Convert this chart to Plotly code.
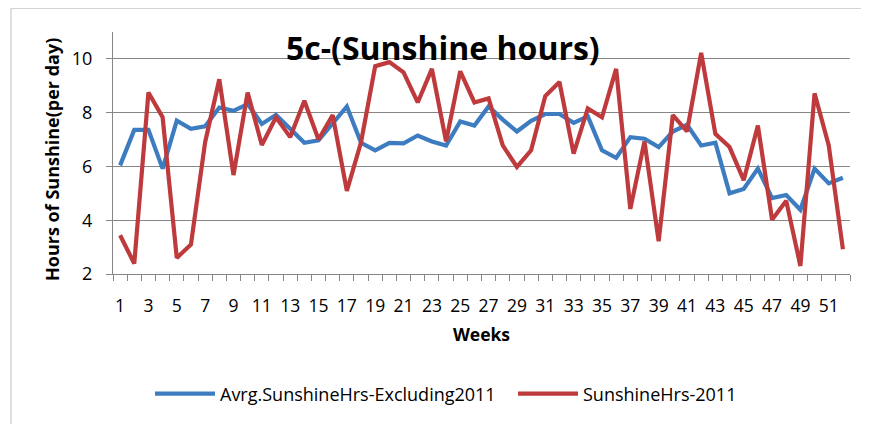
import plotly.graph_objects as go

weeks = list(range(1, 53))
avg_excl_2011 = [6.04, 7.36, 7.36, 5.92, 7.70, 7.40, 7.49, 8.19, 8.07, 8.32, 7.58, 7.92,
                 7.40, 6.88, 6.97, 7.58, 8.23, 6.88, 6.60, 6.88, 6.86, 7.15, 6.93, 6.78,
                 7.67, 7.52, 8.23, 7.74, 7.30, 7.70, 7.95, 7.95, 7.62, 7.86, 6.60, 6.32,
                 7.09, 7.03, 6.72, 7.30, 7.55, 6.78, 6.88, 5.00, 5.16, 5.92, 4.82, 4.94,
                 4.39, 5.92, 5.37, 5.58]
hrs_2011 = [3.44, 2.39, 8.75, 7.83, 2.60, 3.10, 6.90, 9.24, 5.68, 8.75, 6.80, 7.83,
            7.09, 8.44, 7.00, 7.91, 5.09, 6.90, 9.73, 9.88, 9.50, 8.38, 9.63, 6.93,
            9.54, 8.38, 8.53, 6.78, 5.98, 6.60, 8.62, 9.14, 6.48, 8.16, 7.83, 9.63,
            4.42, 6.93, 3.22, 7.91, 7.30, 10.22, 7.21, 6.72, 5.49, 7.52, 4.02, 4.72,
            2.30, 8.72, 6.78, 2.92]
x_tick_labels = [str(w) for w in weeks if w % 2 == 1]
y_ticks = [2, 4, 6, 8, 10]

FONT = "Open Sans"
GRID = "#868686"

# page offset (browser body margin)
OFF = 8
W, H = 869 - OFF, 424 - OFF
# desired plot area in screenshot pixels
PX0, PX1, PY0, PY1 = 113, 850, 32, 276
L, R = PX0 - OFF, W - (PX1 - OFF)
T, B = PY0 - OFF, H - (PY1 - OFF)
pw, ph = PX1 - PX0, PY1 - PY0

def px(xs):
    return (xs - PX0) / pw

def py(ys):
    return (PY1 - ys) / ph

fig = go.Figure()
fig.add_trace(go.Scatter(x=weeks, y=avg_excl_2011, mode="lines",
                         name="Avrg.SunshineHrs-Excluding2011",
                         line=dict(color="#3D7CC1", width=4.2), legend="legend"))
fig.add_trace(go.Scatter(x=weeks, y=hrs_2011, mode="lines",
                         name="SunshineHrs-2011",
                         line=dict(color="#BE3A3C", width=4.2), legend="legend2"))

fig.update_layout(
    width=W, height=H,
    margin=dict(l=L, r=R, t=T, b=B, pad=0),
    paper_bgcolor="white", plot_bgcolor="white",
    font=dict(family=FONT, size=16, color="#000000"),
    showlegend=True,
    legend=dict(x=px(150), y=py(397), xanchor="left", yanchor="middle",
                orientation="h", font=dict(family=FONT, size=18), itemwidth=60,
                bgcolor="rgba(0,0,0,0)"),
    legend2=dict(x=px(513), y=py(397), xanchor="left", yanchor="middle",
                 orientation="h", font=dict(family=FONT, size=18), itemwidth=60,
                 bgcolor="rgba(0,0,0,0)"),
    xaxis=dict(
        range=[0.5, 52.5],
        tickmode="array", tickvals=[int(t) for t in x_tick_labels], ticktext=x_tick_labels,
        ticks="", showgrid=False, zeroline=False,
        showline=True, linecolor=GRID, linewidth=1,
        tickfont=dict(family=FONT, size=17.5),
        ticklabelstandoff=16,
        minor=dict(ticks="outside", tick0=0.5, dtick=1, ticklen=6, tickcolor=GRID,
                   showgrid=False),
        title=dict(text="<b>Weeks</b>", font=dict(family=FONT, size=17.5), standoff=12),
    ),
    yaxis=dict(
        range=[2, 11],
        tickmode="array", tickvals=y_ticks,
        ticks="outside", ticklen=6, tickcolor=GRID,
        showgrid=True, gridcolor=GRID, gridwidth=1, zeroline=False,
        showline=True, linecolor=GRID, linewidth=1,
        tickfont=dict(family=FONT, size=18),
        ticklabelstandoff=10,
    ),
)

fig.add_annotation(text="<b>Hours of Sunshine(per day)</b>", xref="paper", yref="paper",
                   x=px(52), y=py(161), xanchor="center", yanchor="middle", textangle=-90,
                   showarrow=False, font=dict(family=FONT, size=18, color="#000000"))

fig.add_annotation(text="<b>5c-(Sunshine hours)</b>", xref="paper", yref="paper",
                   x=px(443), y=py(48), xanchor="center", yanchor="middle",
                   showarrow=False, font=dict(family=FONT, size=32, color="#000000"))

fig.add_shape(type="rect", xref="paper", yref="paper",
              x0=px(11), x1=px(900), y0=py(460), y1=py(8),
              line=dict(color="#BFBFBF", width=1), fillcolor="rgba(0,0,0,0)", layer="below")

fig.write_html("out.html")
